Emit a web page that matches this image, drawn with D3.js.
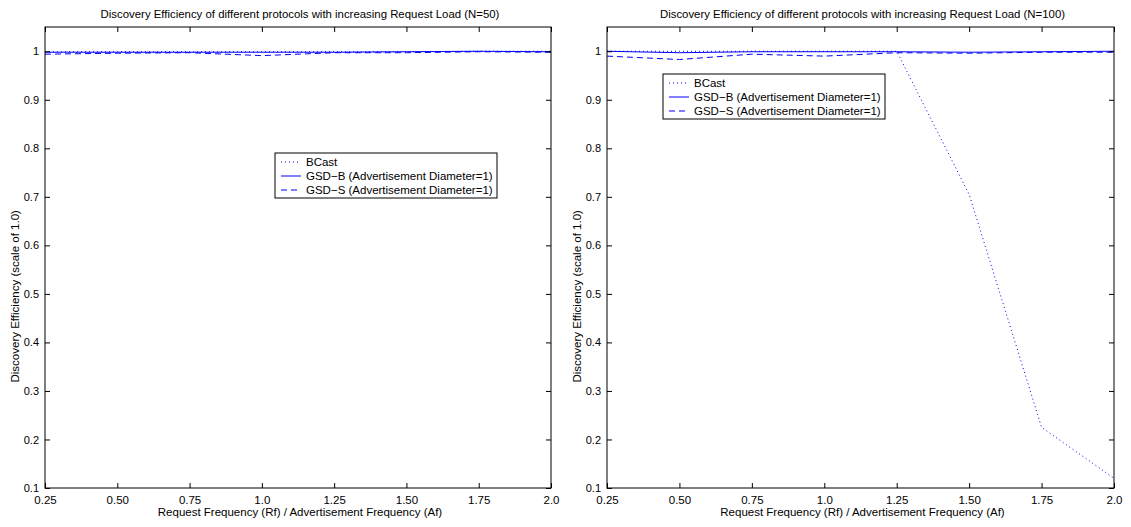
<!DOCTYPE html>
<html>
<head>
<meta charset="utf-8">
<script src="https://cdn.jsdelivr.net/npm/d3@7"></script>
<style>
  body { margin: 0; background: #fff; }
  svg text { font-family: "Liberation Sans", Arial, Helvetica, sans-serif; fill: #000; }
</style>
</head>
<body>
<script>
// values
var xVals = [0.25, 0.5, 0.75, 1.0, 1.25, 1.5, 1.75, 2.0];
var xTickLabels = ["0.25", "0.50", "0.75", "1.0", "1.25", "1.50", "1.75", "2.0"];
var yTicks = [0.1, 0.2, 0.3, 0.4, 0.5, 0.6, 0.7, 0.8, 0.9, 1.0];
var yTickLabels = ["0.1", "0.2", "0.3", "0.4", "0.5", "0.6", "0.7", "0.8", "0.9", "1"];

// N=50
var bcast50 = [0.999, 0.999, 0.999, 0.999, 0.999, 0.999, 1.0, 1.0];
var gsdb50  = [0.998, 0.998, 0.998, 0.998, 0.998, 0.999, 1.0, 0.999];
var gsds50  = [0.994, 0.996, 0.997, 0.991, 0.997, 0.997, 0.999, 0.998];

// N=100
var bcast100 = [1.0, 1.0, 1.0, 1.0, 1.0, 0.705, 0.225, 0.12];
var gsdb100  = [1.0, 0.997, 0.999, 0.999, 0.999, 0.998, 0.999, 1.0];
var gsds100  = [0.99, 0.983, 0.994, 0.99, 0.997, 0.996, 0.998, 0.998];

var seriesNames = ["BCast", "GSD\u2212B (Advertisement Diameter=1)", "GSD\u2212S (Advertisement Diameter=1)"];
var titles = [
  "Discovery Efficiency of different protocols with increasing Request Load (N=50)",
  "Discovery Efficiency of different protocols with increasing Request Load (N=100)"
];
var xLabel = "Request Frequency (Rf) / Advertisement Frequency (Af)";
var yLabel = "Discovery Efficiency (scale of 1.0)";

var W = 1131, H = 527;
var blue = "#0000ff";
var dashes = ["1,3", null, "6,4"];

var svg = d3.select("body").append("svg")
  .attr("width", W).attr("height", H);

var panels = [
  { left: 45, right: 551, data: [bcast50, gsdb50, gsds50], legend: { x: 275, y: 153 } },
  { left: 607, right: 1114, data: [bcast100, gsdb100, gsds100], legend: { x: 663, y: 74 } }
];
var plotTop = 27, plotBottom = 488;

panels.forEach(function(p, pi) {
  var x = d3.scaleLinear().domain([0.25, 2.0]).range([p.left, p.right]);
  var y = d3.scaleLinear().domain([0.1, 1.05]).range([plotBottom, plotTop]);
  var g = svg.append("g");

  // lines
  var line = d3.line().x(function(d, i) { return x(xVals[i]); }).y(function(d) { return y(d); });
  p.data.forEach(function(vals, si) {
    g.append("path")
      .datum(vals)
      .attr("d", line)
      .attr("fill", "none")
      .attr("stroke", blue)
      .attr("stroke-width", 1)
      .attr("stroke-dasharray", dashes[si]);
  });

  // bottom axis (ticks inside)
  var xAxis = d3.axisBottom(x).tickValues(xVals)
    .tickFormat(function(d, i) { return xTickLabels[i]; })
    .tickSize(-5).tickSizeOuter(0).tickPadding(8);
  var gx = g.append("g").attr("transform", "translate(0," + plotBottom + ")").call(xAxis);
  gx.select(".domain").remove();
  gx.selectAll("text").attr("font-size", 11.5).style("font-family", null);

  // top ticks
  var gxt = g.append("g").attr("transform", "translate(0," + plotTop + ")")
    .call(d3.axisTop(x).tickValues(xVals).tickSize(-5).tickSizeOuter(0).tickFormat(""));
  gxt.select(".domain").remove();

  // left axis
  var yAxis = d3.axisLeft(y).tickValues(yTicks)
    .tickFormat(function(d, i) { return yTickLabels[i]; })
    .tickSize(-5).tickSizeOuter(0).tickPadding(6);
  var gy = g.append("g").attr("transform", "translate(" + p.left + ",0)").call(yAxis);
  gy.select(".domain").remove();
  gy.selectAll("text").attr("font-size", 11).style("font-family", null);

  var gyr = g.append("g").attr("transform", "translate(" + p.right + ",0)")
    .call(d3.axisRight(y).tickValues(yTicks).tickSize(-5).tickSizeOuter(0).tickFormat(""));
  gyr.select(".domain").remove();

  g.selectAll(".tick line").attr("stroke", "#000");

  // frame
  g.append("rect")
    .attr("x", p.left).attr("y", plotTop)
    .attr("width", p.right - p.left).attr("height", plotBottom - plotTop)
    .attr("fill", "none").attr("stroke", "#000").attr("stroke-width", 1);

  // title
  g.append("text")
    .attr("x", (p.left + p.right) / 2 + 2).attr("y", 18)
    .attr("text-anchor", "middle").attr("font-size", 11.4)
    .text(titles[pi]);

  // x label
  g.append("text")
    .attr("x", (p.left + p.right) / 2 + 2).attr("y", 516)
    .attr("text-anchor", "middle").attr("font-size", 11.5)
    .text(xLabel);

  // y label
  g.append("text")
    .attr("transform", "translate(" + (p.left - 26) + "," + y(0.495) + ") rotate(-90)")
    .attr("text-anchor", "middle").attr("font-size", 11.5)
    .text(yLabel);

  // legend
  var lg = g.append("g").attr("transform", "translate(" + p.legend.x + "," + p.legend.y + ")");
  lg.append("rect").attr("x", 0).attr("y", 0).attr("width", 222).attr("height", 45)
    .attr("fill", "#fff").attr("stroke", "#000").attr("stroke-width", 1);
  seriesNames.forEach(function(name, si) {
    var ly = 9 + si * 14;
    lg.append("line")
      .attr("x1", 6).attr("x2", 26).attr("y1", ly).attr("y2", ly)
      .attr("stroke", blue).attr("stroke-width", 1)
      .attr("stroke-dasharray", dashes[si]);
    lg.append("text")
      .attr("x", 31).attr("y", ly + 4)
      .attr("font-size", 11.5)
      .text(name);
  });
});
</script>
</body>
</html>
